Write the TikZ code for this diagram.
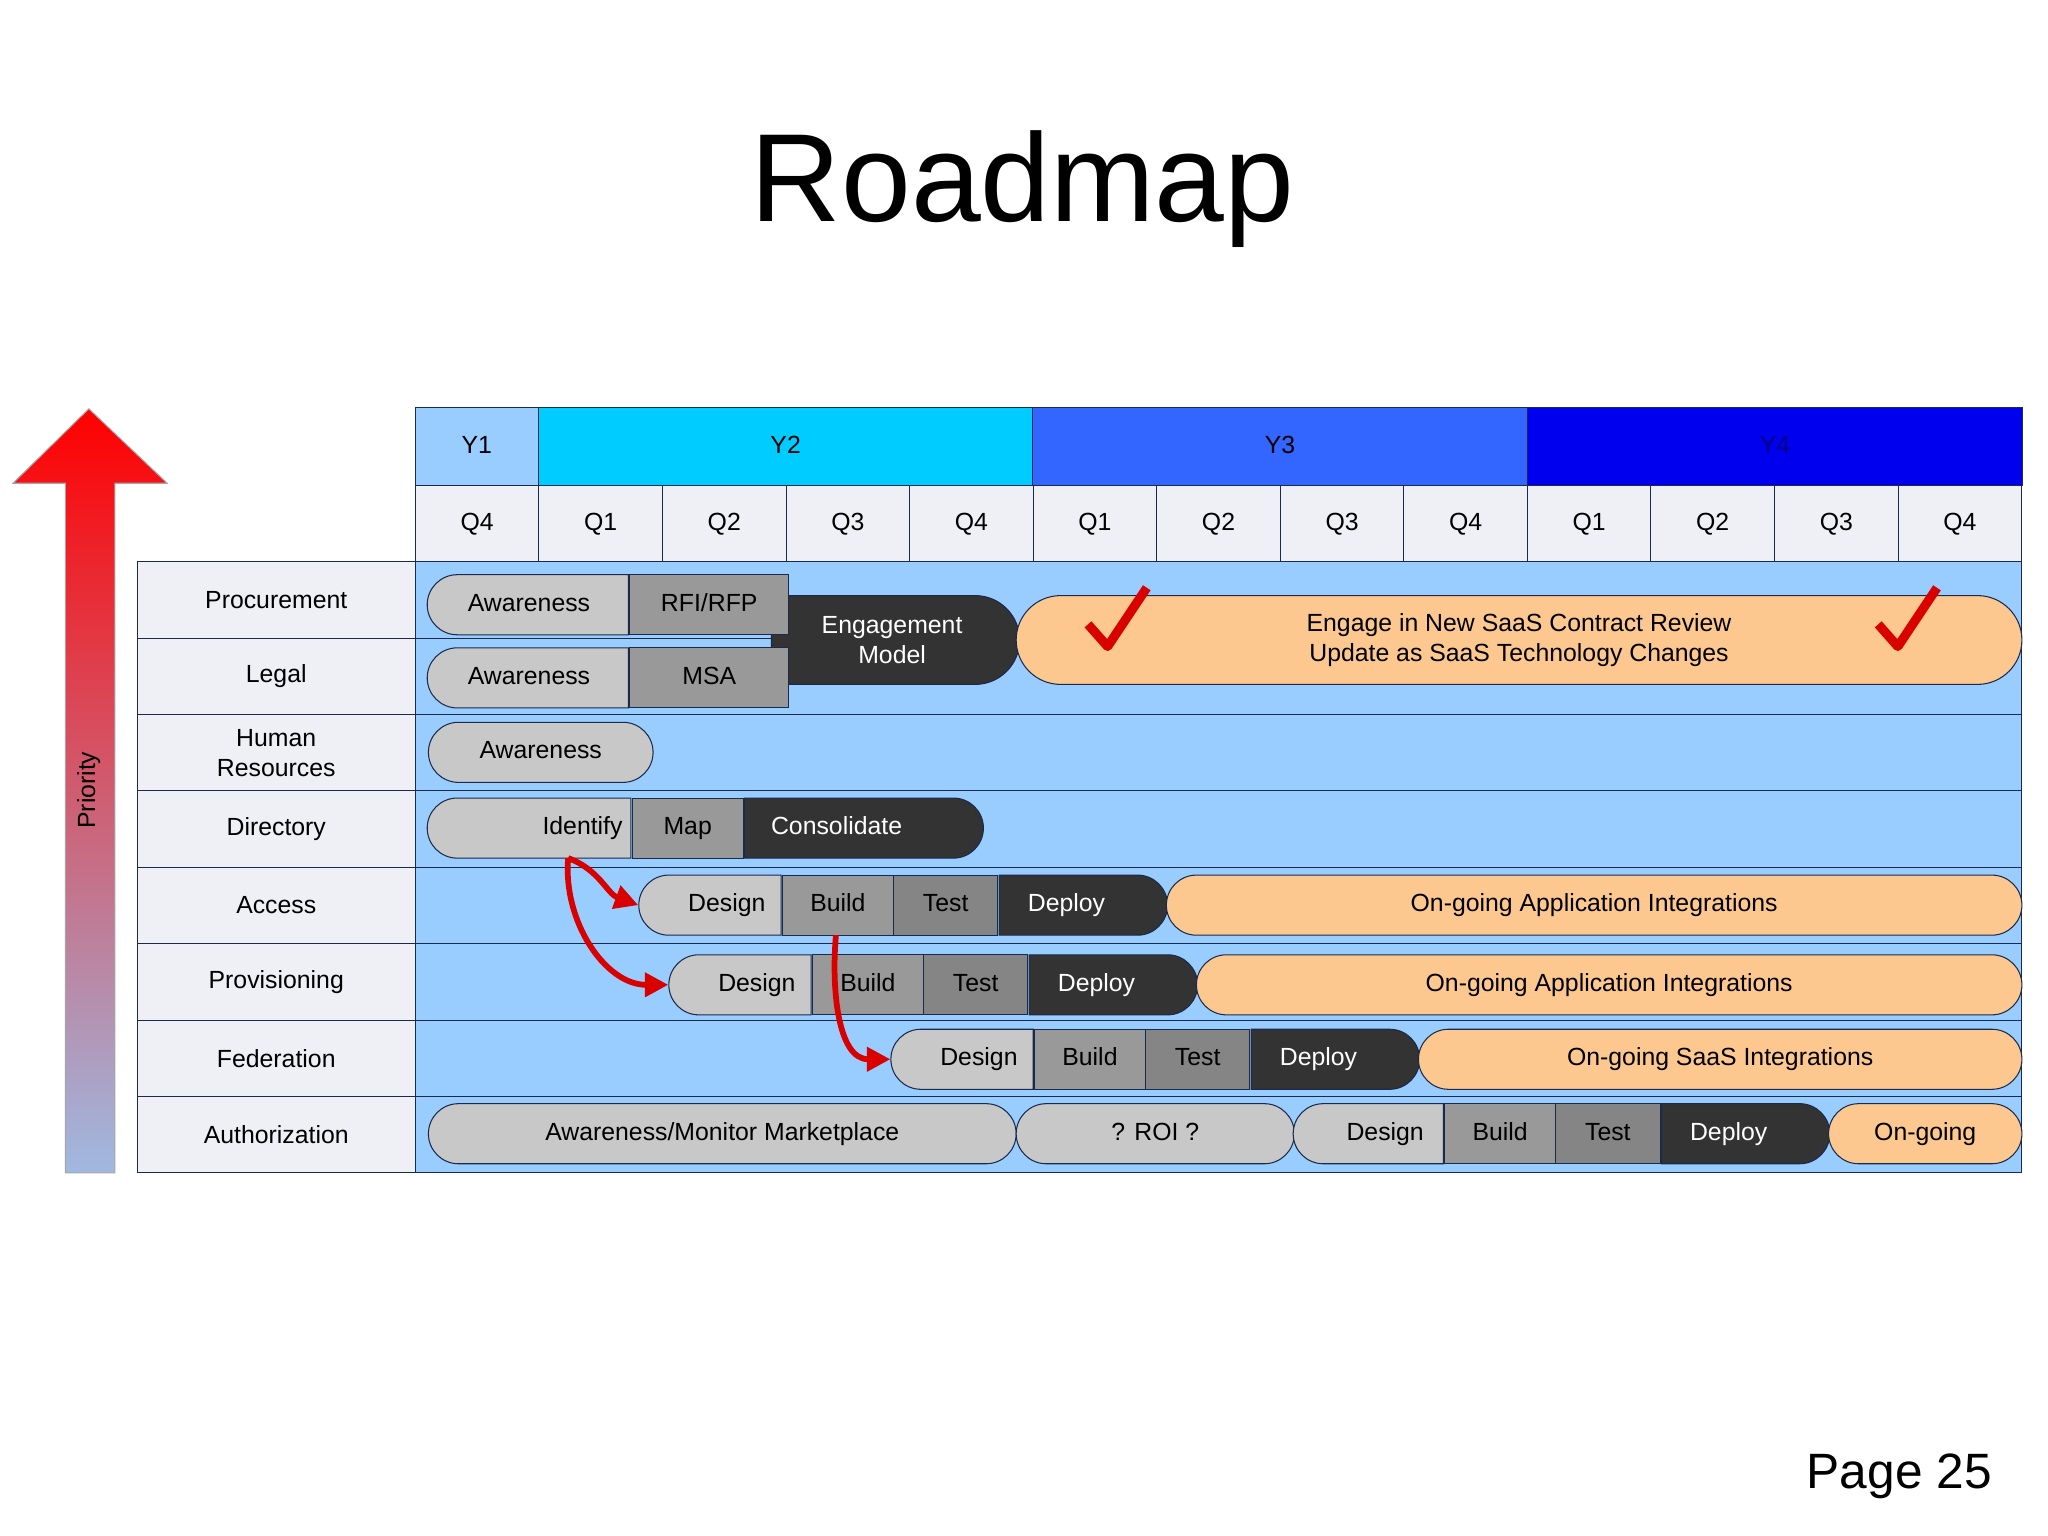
\documentclass[tikz,border=0pt]{standalone}
\usepackage{fontspec}
\setmainfont{Liberation Sans}
\usetikzlibrary{shapes.misc,arrows.meta}

\definecolor{rowblue}{HTML}{99CCFF}
\definecolor{cellgray}{HTML}{EEF0F6}
\definecolor{ytwo}{HTML}{00CCFF}
\definecolor{ythree}{HTML}{3366FF}
\definecolor{yfour}{HTML}{0000EE}
\definecolor{lightseg}{HTML}{C8C8C8}
\definecolor{midseg}{HTML}{999999}
\definecolor{testseg}{HTML}{858585}
\definecolor{darkseg}{HTML}{333333}
\definecolor{orangeseg}{HTML}{FDC890}
\definecolor{lineblue}{HTML}{1A2A4A}

\tikzset{
  cell/.style = {draw=lineblue, fill=cellgray, inner sep=0pt, font=\fontsize{9.5}{11.5}\selectfont, align=center},
  seg/.style = {draw=lineblue, inner sep=0pt, minimum height=23pt, font=\fontsize{9.5}{11.5}\selectfont, align=center},
  oneline/.style = {text height=7pt, text depth=2pt},
  capl/.style = {seg, oneline, rounded rectangle, rounded rectangle right arc=none},
  capr/.style = {seg, oneline, rounded rectangle, rounded rectangle left arc=none},
  capb/.style = {seg, oneline, rounded rectangle},
  flow/.style = {draw=red!85!black, line width=2.2pt, -{Triangle[length=9pt,width=9pt]}},
}

% \seg{name}{style}{x1}{x2}{y}{text}
\newcommand{\seg}[6]{\node[#2, minimum width={(#4-#3)*0.5pt}] (#1) at ({(#3+#4)/2},#5) {#6};}

\begin{document}
\begin{tikzpicture}[x=0.5pt, y=-0.5pt]
  \useasboundingbox (0,0) rectangle (1568,1176);
  \fill[white] (0,0) rectangle (1568,1176);

  \node[font=\fontsize{48}{58}\selectfont] (title) at (783,145) {Roadmap};
  \node[font=\fontsize{19}{23}\selectfont, anchor=east] (page) at (1532,1130) {Page 25};

  % priority arrow
  \shade[top color=red, bottom color={rgb,255:red,160;green,185;blue,225}, draw=gray!70]
    (50,898) -- (50,370) -- (10,370) -- (68,313) -- (128,370) -- (88,370) -- (88,898) -- cycle;
  \node[rotate=90, font=\fontsize{9.5}{11.5}\selectfont] (prio) at (68,605) {Priority};

  % header
  \node[cell, oneline, fill=rowblue, minimum width=47pt, minimum height=30pt] (y1) at (365,342) {Y1};
  \node[cell, oneline, fill=ytwo, minimum width={378.5*0.5pt}, minimum height=30pt] (y2) at (601.5,342) {Y2};
  \node[cell, oneline, fill=ythree, minimum width={378.5*0.5pt}, minimum height=30pt] (y3) at (980,342) {Y3};
  \node[cell, oneline, fill=yfour, text=blue!50!black, minimum width={378.5*0.5pt}, minimum height=30pt] (y4) at (1359,342) {Y4};
  \foreach \q [count=\i from 0] in {Q4,Q1,Q2,Q3,Q4,Q1,Q2,Q3,Q4,Q1,Q2,Q3,Q4}
    \node[cell, oneline, minimum width={94.6*0.5pt}, minimum height=29pt] (q\i) at ({318+94.6*\i+47.3},401) {\q};

  % rows
  \foreach \r/\t [count=\i from 0] in {proc/Procurement,legal/Legal,hr/{Human\\Resources},dir/Directory,acc/Access,prov/Provisioning,fed/Federation,auth/Authorization}{
    \node[cell, minimum width=106.5pt, minimum height={58.5*0.5pt}] (\r) at (211.5,{430+58.5*\i+29.25}) {\t};
    \fill[rowblue] (318,{430+58.5*\i}) rectangle (1548,{430+58.5*(\i+1)});
    \draw[lineblue] (318,{430+58.5*\i}) rectangle (1548,{430+58.5*(\i+1)});
  }

  % procurement / legal
  \node[seg, rounded rectangle, rounded rectangle left arc=none, fill=darkseg, text=white,
        minimum width=95pt, minimum height=34pt] (engage) at (683,490) {Engagement\\Model};
  \seg{awp}{capl, fill=lightseg}{328}{482}{463}{Awareness}
  \seg{rfi}{seg, oneline, fill=midseg}{482}{604}{463}{RFI/RFP}
  \seg{awl}{capl, fill=lightseg}{328}{482}{519}{Awareness}
  \seg{msa}{seg, oneline, fill=midseg}{482}{604}{519}{MSA}
  \node[seg, rounded rectangle, fill=orangeseg, minimum width=385pt, minimum height=34pt] (review) at (1163,490)
    {Engage in New SaaS Contract Review\\Update as SaaS Technology Changes};
  \draw[red!85!black, line width=3.5pt, line join=round] (833,478) -- (848,495) -- (878,450);
  \draw[red!85!black, line width=3.5pt, line join=round] (1438,478) -- (1453,495) -- (1483,450);

  % human resources
  \seg{awh}{capb, fill=lightseg}{328}{500}{576}{Awareness}

  % directory
  \seg{ident}{capl, fill=lightseg}{328}{484}{634}{\hspace*{40pt}Identify}
  \seg{map}{seg, oneline, fill=midseg}{484}{569}{634}{Map}
  \seg{cons}{capr, fill=darkseg, text=white}{569}{752}{634}{Consolidate\hspace*{20pt}}

  % access
  \seg{desa}{capl, fill=lightseg}{490}{599}{693}{\hspace*{12pt}Design}
  \seg{bla}{seg, oneline, fill=midseg}{599}{684}{693}{Build}
  \seg{tsa}{seg, oneline, fill=testseg}{684}{764}{693}{Test}
  \seg{dpa}{capr, fill=darkseg, text=white}{764}{893}{693}{Deploy\hspace*{12pt}}
  \seg{oga}{capb, fill=orangeseg}{893}{1548}{693}{On-going Application Integrations}

  % provisioning
  \seg{desp}{capl, fill=lightseg}{513}{622}{754}{\hspace*{12pt}Design}
  \seg{blp}{seg, oneline, fill=midseg}{622}{707}{754}{Build}
  \seg{tsp}{seg, oneline, fill=testseg}{707}{787}{754}{Test}
  \seg{dpp}{capr, fill=darkseg, text=white}{787}{916}{754}{Deploy\hspace*{12pt}}
  \seg{ogp}{capb, fill=orangeseg}{916}{1548}{754}{On-going Application Integrations}

  % federation
  \seg{desf}{capl, fill=lightseg}{683}{792}{811}{\hspace*{12pt}Design}
  \seg{blf}{seg, oneline, fill=midseg}{792}{877}{811}{Build}
  \seg{tsf}{seg, oneline, fill=testseg}{877}{957}{811}{Test}
  \seg{dpf}{capr, fill=darkseg, text=white}{957}{1086}{811}{Deploy\hspace*{12pt}}
  \seg{ogf}{capb, fill=orangeseg}{1086}{1548}{811}{On-going SaaS Integrations}

  % authorization
  \seg{mkt}{capb, fill=lightseg}{328}{778}{868}{Awareness/Monitor Marketplace}
  \seg{roi}{capb, fill=lightseg}{778}{991}{868}{? ROI ?}
  \seg{desz}{capl, fill=lightseg}{991}{1106}{868}{\hspace*{12pt}Design}
  \seg{blz}{seg, oneline, fill=midseg}{1106}{1191}{868}{Build}
  \seg{tsz}{seg, oneline, fill=testseg}{1191}{1271}{868}{Test}
  \seg{dpz}{capr, fill=darkseg, text=white}{1271}{1400}{868}{Deploy\hspace*{12pt}}
  \seg{ogz}{capb, fill=orangeseg}{1400}{1548}{868}{On-going}

  % dependencies
  \coordinate (fromid) at (435,657);
  \coordinate (frombl) at (640,716);
  \draw[flow] (fromid) to[out=-20, in=160] (desa.west);
  \draw[flow] (fromid) to[out=-95, in=180] (desp.west);
  \draw[flow] (frombl) to[out=-95, in=180] (desf.west);
\end{tikzpicture}
\end{document}
